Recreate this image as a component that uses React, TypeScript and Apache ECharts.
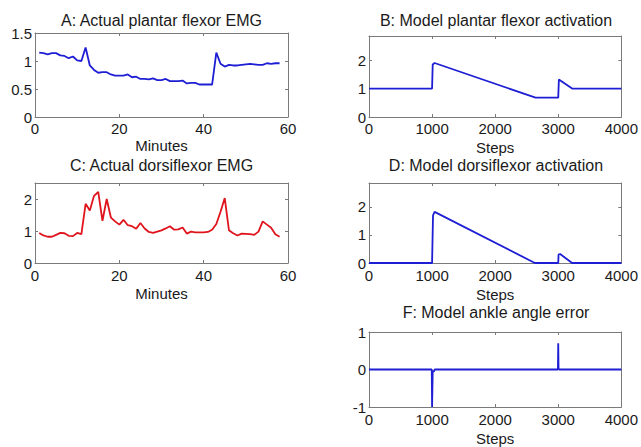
import React, { useEffect, useRef } from "react";
import * as echarts from "echarts";

// ---- Data ----
const minutes = [
  1, 2, 3, 4, 5, 6, 7, 8, 9, 10, 11, 12, 13, 14, 15, 16, 17, 18, 19, 20,
  21, 22, 23, 24, 25, 26, 27, 28, 29, 30, 31, 32, 33, 34, 35, 36, 37, 38, 39, 40,
  41, 42, 43, 44, 45, 46, 47, 48, 49, 50, 51, 52, 53, 54, 55, 56, 57, 58,
];
const plantarEMG = [
  1.15, 1.14, 1.12, 1.14, 1.14, 1.1, 1.09, 1.05, 1.08, 1.01, 1.0, 1.24, 0.92, 0.84, 0.79, 0.8, 0.8, 0.76, 0.74, 0.74,
  0.74, 0.76, 0.71, 0.72, 0.68, 0.68, 0.67, 0.69, 0.66, 0.66, 0.68, 0.64, 0.64, 0.64, 0.65, 0.6, 0.61, 0.61, 0.58, 0.58,
  0.58, 0.58, 1.15, 0.95, 0.9, 0.93, 0.92, 0.92, 0.93, 0.94, 0.95, 0.94, 0.93, 0.93, 0.96, 0.95, 0.96, 0.96,
];
const dorsiEMG = [
  0.94, 0.86, 0.82, 0.82, 0.88, 0.94, 0.93, 0.85, 0.84, 0.94, 0.9, 1.85, 1.64, 2.1, 2.22, 1.32, 2.0, 1.42, 1.3, 1.2,
  1.35, 1.18, 1.15, 1.07, 1.25, 1.08, 0.97, 0.94, 0.98, 1.02, 1.08, 1.15, 1.04, 1.05, 1.11, 0.92, 0.98, 0.96, 0.96, 0.96,
  0.97, 1.04, 1.22, 1.6, 2.03, 1.02, 0.93, 0.86, 0.92, 0.91, 0.9, 0.88, 0.98, 1.3, 1.2, 1.1, 0.9, 0.82,
];

const stepsPlantar = [0, 1000, 1010, 1040, 2640, 3000, 3010, 3220, 4000];
const plantarAct = [1.0, 1.0, 1.85, 1.9, 0.68, 0.68, 1.32, 1.0, 1.0];

const stepsDorsi = [0, 1000, 1015, 1040, 2630, 3000, 3005, 3030, 3220, 4000];
const dorsiAct = [0, 0, 1.7, 1.82, 0, 0, 0.3, 0.32, 0, 0];

const stepsError = [0, 995, 1000, 1005, 1010, 1030, 1040, 2995, 3000, 3005, 3015, 4000];
const angleError = [0, 0, -1.0, -1.0, -0.05, -0.05, 0, 0, 0.7, 0.02, 0, 0];

const minuteTicks = [0, 20, 40, 60];
const stepTicks = [0, 1000, 2000, 3000, 4000];
const plantarEMGTicks = [0, 0.5, 1, 1.5];
const dorsiEMGTicks = [0, 1, 2];
const activationTicks = [0, 1, 2];
const errorTicks = [-1, 0, 1];

const titles = [
  "A: Actual plantar flexor EMG",
  "B: Model plantar flexor activation",
  "C: Actual dorsiflexor EMG",
  "D: Model dorsiflexor activation",
  "F: Model ankle angle error",
];

// ---- Styles ----
const FONT = "Liberation Sans, Arial, Helvetica, sans-serif";
const AXIS = "#7a7a7a";
const TEXT = "#1a1a1a";
const BLUE = "#1e1ed4";
const RED = "#e0141c";

type Panel = {
  grid: { left: number; top: number; width: number; height: number };
  xMin: number;
  xMax: number;
  xTicks: number[];
  yMin: number;
  yMax: number;
  yTicks: number[];
  xName: string;
  nameGap: number;
  labelMargin: number;
  titleY: number;
  data: number[][];
  color: string;
};

const pairs = (xs: number[], ys: number[]) => xs.map((x, i) => [x, ys[i]]);

const panels: Panel[] = [
  {
    grid: { left: 35, top: 33, width: 253, height: 84 },
    xMin: 0, xMax: 60, xTicks: minuteTicks,
    yMin: 0, yMax: 1.5, yTicks: plantarEMGTicks,
    xName: "Minutes", nameGap: 21, labelMargin: 4, titleY: 21,
    data: pairs(minutes, plantarEMG), color: BLUE,
  },
  {
    grid: { left: 369, top: 36, width: 254, height: 81 },
    xMin: 0, xMax: 4000, xTicks: stepTicks,
    yMin: 0, yMax: 2.85, yTicks: activationTicks,
    xName: "Steps", nameGap: 23, labelMargin: 4, titleY: 21,
    data: pairs(stepsPlantar, plantarAct), color: BLUE,
  },
  {
    grid: { left: 35, top: 183, width: 253, height: 80 },
    xMin: 0, xMax: 60, xTicks: minuteTicks,
    yMin: 0, yMax: 2.5, yTicks: dorsiEMGTicks,
    xName: "Minutes", nameGap: 23, labelMargin: 5, titleY: 166,
    data: pairs(minutes, dorsiEMG), color: RED,
  },
  {
    grid: { left: 369, top: 183, width: 254, height: 80 },
    xMin: 0, xMax: 4000, xTicks: stepTicks,
    yMin: 0, yMax: 2.85, yTicks: activationTicks,
    xName: "Steps", nameGap: 24, labelMargin: 5, titleY: 166,
    data: pairs(stepsDorsi, dorsiAct), color: BLUE,
  },
  {
    grid: { left: 369, top: 332, width: 254, height: 79 },
    xMin: 0, xMax: 4000, xTicks: stepTicks,
    yMin: -1, yMax: 1, yTicks: errorTicks,
    xName: "Steps", nameGap: 24, labelMargin: 5, titleY: 313,
    data: pairs(stepsError, angleError), color: BLUE,
  },
];

function buildOption() {
  const grid: any[] = [];
  const xAxis: any[] = [];
  const yAxis: any[] = [];
  const series: any[] = [];
  const title: any[] = [];

  const lineStyle = { color: AXIS, width: 1 };
  const labelStyle = { color: TEXT, fontSize: 15, fontFamily: FONT };
  const plain = (v: number) => String(v);

  panels.forEach((p, i) => {
    grid.push({ ...p.grid, containLabel: false });
    const xBottom = xAxis.length;
    xAxis.push({
      type: "value",
      gridIndex: i,
      position: "bottom",
      min: p.xMin,
      max: p.xMax,
      axisLine: { show: true, onZero: false, lineStyle },
      axisTick: { show: true, inside: true, length: 3, customValues: p.xTicks, lineStyle },
      axisLabel: { show: true, customValues: p.xTicks, margin: p.labelMargin, formatter: plain, ...labelStyle },
      splitLine: { show: false },
      name: p.xName,
      nameLocation: "middle",
      nameGap: p.nameGap,
      nameMoveOverlap: false,
      nameTextStyle: { ...labelStyle },
    });
    xAxis.push({
      type: "value",
      gridIndex: i,
      position: "top",
      min: p.xMin,
      max: p.xMax,
      axisLine: { show: true, onZero: false, lineStyle },
      axisTick: { show: true, inside: true, length: 3, customValues: p.xTicks, lineStyle },
      axisLabel: { show: false },
      splitLine: { show: false },
    });
    const yLeft = yAxis.length;
    yAxis.push({
      type: "value",
      gridIndex: i,
      position: "left",
      min: p.yMin,
      max: p.yMax,
      axisLine: { show: true, onZero: false, lineStyle },
      axisTick: { show: true, inside: true, length: 3, customValues: p.yTicks, lineStyle },
      axisLabel: { show: true, customValues: p.yTicks, margin: 3, formatter: plain, ...labelStyle },
      splitLine: { show: false },
    });
    yAxis.push({
      type: "value",
      gridIndex: i,
      position: "right",
      min: p.yMin,
      max: p.yMax,
      axisLine: { show: true, onZero: false, lineStyle },
      axisTick: { show: true, inside: true, length: 3, customValues: p.yTicks, lineStyle },
      axisLabel: { show: false },
      splitLine: { show: false },
    });
    series.push({
      type: "line",
      xAxisIndex: xBottom,
      yAxisIndex: yLeft,
      data: p.data,
      showSymbol: false,
      symbol: "none",
      clip: true,
      lineStyle: { color: p.color, width: 1.8 },
      z: 3,
    });
    title.push({
      text: titles[i],
      left: p.grid.left + p.grid.width / 2,
      top: p.titleY - 9,
      textAlign: "center",
      padding: 0,
      textStyle: { color: TEXT, fontSize: 16, fontWeight: "normal", fontFamily: FONT },
    });
  });

  return {
    animation: false,
    backgroundColor: "#ffffff",
    title,
    grid,
    xAxis,
    yAxis,
    series,
  };
}

export default function App() {
  const ref = useRef<HTMLDivElement>(null);
  useEffect(() => {
    if (!ref.current) return;
    const chart = echarts.init(ref.current, undefined, { renderer: "svg" });
    chart.setOption(buildOption() as any);
    return () => chart.dispose();
  }, []);
  return (
    <div
      ref={ref}
      style={{ position: "fixed", left: 0, top: 0, width: 641, height: 447, background: "#fff" }}
    />
  );
}
